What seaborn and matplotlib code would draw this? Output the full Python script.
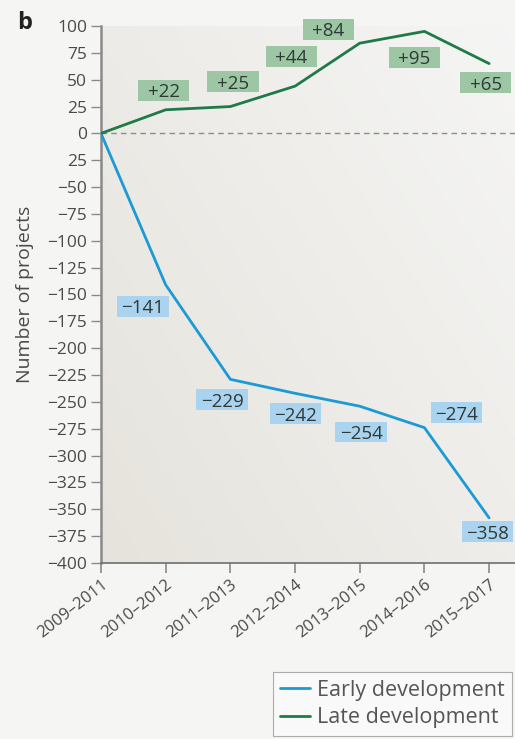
import numpy as np
import pandas as pd
import matplotlib
matplotlib.use("Agg")
import matplotlib.pyplot as plt
from matplotlib.patches import Rectangle
from matplotlib.lines import Line2D
import seaborn as sns

# Rolling three-year windows
periods = ["2009–2011", "2010–2012", "2011–2013", "2012–2014",
           "2013–2015", "2014–2016", "2015–2017"]
# Change in number of projects relative to 2009–2011
early = [0, -141, -229, -242, -254, -274, -358]
late = [0, 22, 25, 44, 84, 95, 65]

y_ticks = [100, 75, 50, 25, 0, -25, -50, -75, -100, -125, -150, -175, -200,
           -225, -250, -275, -300, -325, -350, -375, -400]
y_tick_labels = ["100", "75", "50", "25", "0", "25", "−50", "−75", "−100",
                 "−125", "−150", "−175", "−200", "−225", "−250", "−275",
                 "−300", "−325", "−350", "−375", "−400"]

# Label placement relative to each point (x offset in steps, y offset in projects)
late_offsets = [None, (-0.03, 18), (0.04, 23), (-0.06, 28), (-0.49, 13), (-0.16, -24), (-0.05, -18)]
early_offsets = [None, (-0.35, -20), (-0.13, -19), (0.0, -19), (0.02, -24), (0.49, 14), (-0.02, -13)]

BLUE = "#1b9ad6"
GREEN = "#1f7a47"
BLUE_BOX = "#a9d3ee"
GREEN_BOX = "#9dc6a4"
TEXT = "#4a4a4a"
AXIS = "#8a8a8a"

sns.set_theme(style="white")
plt.rcParams["font.family"] = ["Open Sans", "DejaVu Sans"]

df = pd.DataFrame({
    "step": list(range(len(periods))) * 2,
    "projects": early + late,
    "stage": ["Early development"] * len(periods) + ["Late development"] * len(periods),
})

fig = plt.figure(figsize=(5.15, 7.39), dpi=100)
fig.patch.set_facecolor("#f5f5f4")
W, H = 515, 739
ax = fig.add_axes([101 / W, 1 - 563 / H, (515 - 101) / W, (563 - 26) / H])
ax.set_facecolor("#efeeeb")

# Soft shaded background: darker at lower left, lighter at upper right
gx, gy = np.meshgrid(np.linspace(0, 1, 200), np.linspace(0, 1, 200))
g = np.clip(0.55 * gx + 0.45 * (1 - gy), 0, 1)
c0 = np.array([0.900, 0.890, 0.862])
c1 = np.array([0.962, 0.962, 0.960])
img = c0[None, None, :] * (1 - g[..., None]) + c1[None, None, :] * g[..., None]
ax.imshow(img, extent=[0, 1, 0, 1], transform=ax.transAxes, aspect="auto",
          zorder=0, origin="upper")

ax.axhline(0, color="#8c8c8c", lw=1.0, ls=(0, (4, 3)), zorder=1)

sns.lineplot(data=df, x="step", y="projects", hue="stage",
             palette={"Early development": BLUE, "Late development": GREEN},
             linewidth=2.0, ax=ax, legend=False, zorder=3)

ax.set_xlim(0, 6.4)
ax.set_ylim(-400, 100)

BOX_W, BOX_H = 0.79, 19.5  # label box size in data units


def label_series(values, offsets, box):
    for i, (v, off) in enumerate(zip(values, offsets)):
        if off is None:
            continue
        cx, cy = i + off[0], v + off[1]
        ax.add_patch(Rectangle((cx - BOX_W / 2, cy - BOX_H / 2), BOX_W, BOX_H,
                               facecolor=box, edgecolor="none", zorder=4,
                               clip_on=False))
        txt = f"+{v}" if v > 0 else f"−{abs(v)}"
        ax.text(cx, cy, txt, ha="center", va="center_baseline",
                fontsize=13.5, color="#2f3a36", zorder=5, clip_on=False)


label_series(late, late_offsets, GREEN_BOX)
label_series(early, early_offsets, BLUE_BOX)

ax.set_yticks(y_ticks)
ax.set_yticklabels(y_tick_labels)
ax.set_xticks(range(len(periods)))
ax.set_xticklabels(periods, rotation=38, ha="right", rotation_mode="anchor")
ax.set_xlabel("")
ax.set_ylabel("Number of projects", fontsize=14, color=TEXT)
ax.yaxis.set_label_coords(-0.161, 0.5)

for s in ["top", "right"]:
    ax.spines[s].set_visible(False)
ax.spines["left"].set_color(AXIS)
ax.spines["left"].set_linewidth(1.8)
ax.spines["bottom"].set_color("#6f6f6f")
ax.spines["bottom"].set_linewidth(1.2)
ax.tick_params(axis="y", direction="out", length=7, width=1.0, color=AXIS,
               labelsize=12.5, labelcolor=TEXT, pad=3, left=True)
ax.tick_params(axis="x", direction="out", length=7, width=1.2, color=AXIS,
               labelsize=12, labelcolor=TEXT, pad=3, bottom=True)

fig.text(17 / W, 1 - 23 / H, "b", fontsize=17, fontweight="bold",
         color="#222222", ha="left", va="center")

handles = [Line2D([], [], color=BLUE, lw=2.0), Line2D([], [], color=GREEN, lw=2.0)]
leg = fig.legend(handles, ["Early development", "Late development"],
                 loc="lower right", bbox_to_anchor=(512 / W, 1 - 736 / H),
                 frameon=True, fancybox=False, fontsize=15.5, handlelength=1.4,
                 handletextpad=0.3, labelspacing=0.3, borderpad=0.35,
                 borderaxespad=0, labelcolor="#555555")
leg.get_frame().set_edgecolor("#9a9a9a")
leg.get_frame().set_facecolor("#fbfbfb")
leg.get_frame().set_linewidth(0.8)

fig.savefig("out.png", dpi=100, facecolor=fig.get_facecolor())
